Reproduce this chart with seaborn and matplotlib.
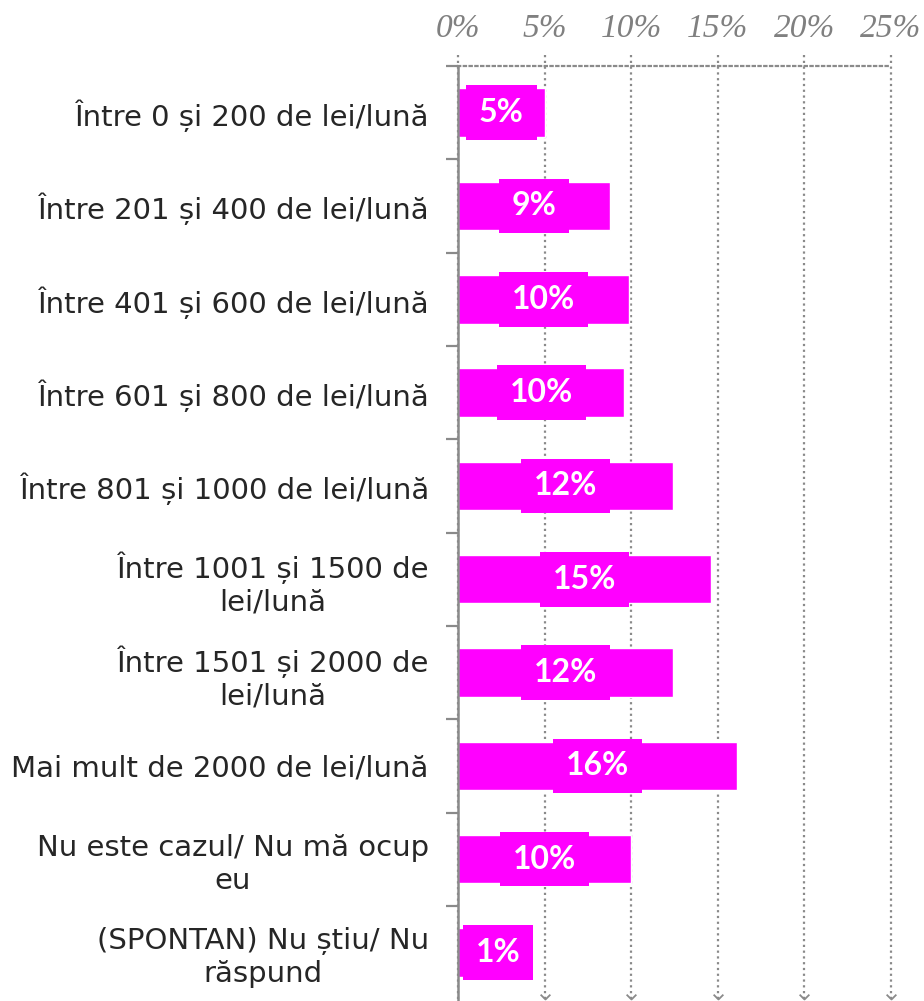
import numpy as np
import pandas as pd
import matplotlib
matplotlib.use("Agg")
import matplotlib.pyplot as plt
from matplotlib.path import Path
import seaborn as sns

categories = [
    "Între 0 și 200 de lei/lună",
    "Între 201 și 400 de lei/lună",
    "Între 401 și 600 de lei/lună",
    "Între 601 și 800 de lei/lună",
    "Între 801 și 1000 de lei/lună",
    "Între 1001 și 1500 de\nlei/lună",
    "Între 1501 și 2000 de\nlei/lună",
    "Mai mult de 2000 de lei/lună",
    "Nu este cazul/ Nu mă ocup\neu",
    "(SPONTAN) Nu știu/ Nu\nrăspund",
]
values = [5.0, 8.8, 9.9, 9.6, 12.4, 14.6, 12.4, 16.1, 10.0, 1.2]
xticks = [0, 5, 10, 15, 20, 25]
xtick_labels = ["0%", "5%", "10%", "15%", "20%", "25%"]

MAGENTA = "#FF00FF"
GRAY = "#8a8a8a"
TEXT = "#262626"

sns.set_theme(style="white")
plt.rcParams["font.family"] = ["DejaVu Sans"]

df = pd.DataFrame({"cat": categories, "val": values})

fig = plt.figure(figsize=(9.24, 10.01), dpi=100)
ax = fig.add_axes([458 / 924, 0.0, (891 - 458) / 924, (1001 - 66) / 1001])

sns.barplot(data=df, x="val", y="cat", orient="h", color=MAGENTA,
            saturation=1, width=0.52, ax=ax, zorder=3)

n = len(categories)
ax.set_xlim(0, 25)
ax.set_ylim(n - 0.5 + 0.02, -0.5)

# gridlines (dotted, with small chevron at bottom)
gl_style = (0, (1, 1.6))
ax.vlines(xticks, ymin=-0.62, ymax=n - 0.5, colors=GRAY,
          linestyles=[gl_style], linewidth=1.6, clip_on=False, zorder=1)
chev = Path([(-1, 1), (0, 0), (1, 1)], [Path.MOVETO, Path.LINETO, Path.LINETO])
ax.plot(xticks[1:], [n - 0.5] * (len(xticks) - 1), linestyle="none",
        marker=chev, markersize=7, markerfacecolor="none", markeredgecolor=GRAY,
        markeredgewidth=1.3, clip_on=False, zorder=1)

# spines
for s in ["right", "bottom"]:
    ax.spines[s].set_visible(False)
ax.spines["top"].set_linestyle(gl_style)
ax.spines["top"].set_color(GRAY)
ax.spines["top"].set_linewidth(1.6)
ax.spines["left"].set_color(GRAY)
ax.spines["left"].set_linewidth(1.8)
ax.spines["left"].set_zorder(4)

# x axis on top
ax.xaxis.tick_top()
ax.set_xticks(xticks)
ax.set_xticklabels(xtick_labels)
for lbl in ax.get_xticklabels():
    lbl.set_fontfamily("Liberation Serif")
    lbl.set_fontstyle("italic")
    lbl.set_fontsize(24)
    lbl.set_color("#808080")
ax.tick_params(axis="x", length=0, pad=16)
ax.set_xlabel("")
ax.set_ylabel("")

# y axis labels + boundary ticks
ax.set_yticks(range(n))
ax.set_yticklabels(categories, fontsize=21, color=TEXT, multialignment="center")
ax.tick_params(axis="y", which="major", length=0, pad=21)
ax.set_yticks(np.arange(-0.5, n - 1, 1.0), minor=True)
ax.tick_params(axis="y", which="minor", length=9, width=1.6, color=GRAY, left=True)

# value labels
for i, v in enumerate(values):
    xpos = max(v / 2, 2.3)
    ax.text(xpos, i, f"{round(v):.0f}%", ha="center", va="center",
            fontsize=23, fontweight="bold", color="white", zorder=5,
            fontfamily=["Lato", "DejaVu Sans"],
            bbox=dict(boxstyle="square,pad=0.4", facecolor=MAGENTA,
                      edgecolor="none"))

fig.savefig("out.png", dpi=100)
